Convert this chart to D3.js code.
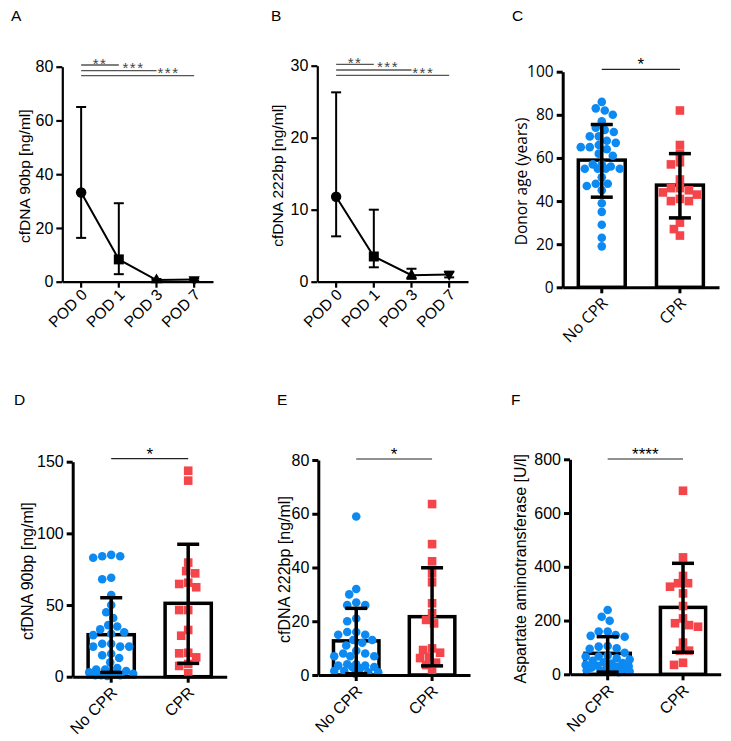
<!DOCTYPE html>
<html><head><meta charset="utf-8">
<script src="https://cdn.jsdelivr.net/npm/d3@7"></script>
<style>body{margin:0;background:#fff}</style>
</head><body>
<svg id="c" width="731" height="741"></svg>
<script>
// ---------------- DATA ----------------
const podCats = ["POD 0", "POD 1", "POD 3", "POD 7"];
const podShapes = ["circle", "square", "triangle", "triangleDown"];
const a90Mean  = [33.2, 8.3, 0.6, 0.8];
const a90Upper = [65.0, 29.2, 1.0, 1.2];
const a90Lower = [16.3, 2.8, 0.3, 0.4];
const b222Mean  = [11.8, 3.5, 0.9, 1.0];
const b222Upper = [26.3, 10.0, 1.8, 1.4];
const b222Lower = [6.3, 2.0, 0.4, 0.6];
const sigLabelsPOD = ["**", "***", "***"];
const sigTargetsPOD = ["POD 1", "POD 3", "POD 7"];

const groups = ["No CPR", "CPR"];

const ageNoCPR = [83, 86, 82, 80, 77, 73, 74, 72, 70, 70, 68, 67, 66, 65, 65, 64, 62, 61, 57, 56, 55, 55, 55, 55, 57, 51, 48, 47, 48, 45, 39, 35, 29, 23, 19];
const ageCPR = [82, 66, 62, 58, 57, 50, 46, 46, 45, 44, 43, 41, 40, 40, 30, 27, 24];
const ageMean = [59.0, 47.4], ageUpper = [75.5, 62.0], ageLower = [41.8, 32.2];

const d90NoCPR = [84, 84, 83, 85, 68, 69, 57, 50, 45, 41, 36, 33, 35, 31, 30, 29, 23, 21, 21, 21, 23, 16, 15, 13, 10, 6, 5, 5, 4, 3, 2, 2, 1, 1, 1, 0.5];
const d90CPR = [143.7, 136.8, 73.7, 79.6, 65.6, 72.1, 64.7, 62.4, 46.5, 46.5, 32.6, 28.6, 16.3, 16.7, 8.9, 13.5, 7.5, 2.4];
const d90Mean = [29.3, 51.2], d90Upper = [55.1, 92.4], d90Lower = [3.0, 9.3];

const e222NoCPR = [59, 32, 27, 26, 30, 26, 20, 21, 16, 16, 13, 15, 11, 13, 8, 8, 7, 7, 7, 9, 4, 3.5, 3, 2.5, 3, 3.5, 4, 1.5, 1, 0.5, 1, 1.5, 12, 15];
const e222CPR = [63.6, 48.7, 42.3, 37.8, 34.5, 26.7, 23, 19.2, 20.5, 9.3, 9.9, 6.8, 8.3, 4.6, 3.7, 1.2, 6.3];
const e222Mean = [12.7, 21.7], e222Upper = [24.8, 39.9], e222Lower = [0.5, 3.4];

const astNoCPR = [239, 214, 199, 159, 159, 146, 143, 140, 103, 97, 105, 95, 80, 70, 66, 66, 60, 55, 50, 45, 42, 40, 35, 32, 30, 28, 25, 22, 20, 18, 15, 12, 10, 8];
const astCPR = [683, 435, 366, 339, 326, 339, 301, 254, 208, 190, 177, 183, 118, 88, 88, 35, 43];
const astMean = [78, 249], astUpper = [140, 413], astLower = [8, 82];

// ---------------- DRAW ----------------
const svg = d3.select("#c");
const ARIAL = "'Liberation Sans', Arial, sans-serif";
const OPEN = "'Open Sans', 'Liberation Sans', sans-serif";
const BLUE = "#0d8af2", RED = "#f4464a";

function panelLetter(t, x, y) {
  svg.append("text").attr("x", x).attr("y", y).text(t)
    .attr("font-family", ARIAL).attr("font-size", 15.5).attr("fill", "#000");
}

function drawAxes(g, x, y, cfg) {
  const ya = g.append("g").attr("transform", `translate(${x.range()[0]},0)`)
    .call(d3.axisLeft(y).tickValues(cfg.yTicks).tickSize(6).tickSizeOuter(0).tickPadding(3));
  ya.select(".domain").attr("stroke-width", cfg.axW).attr("stroke", "#000");
  ya.selectAll(".tick line").attr("stroke-width", cfg.axW).attr("stroke", "#000");
  ya.selectAll("text").attr("font-size", cfg.fs).attr("font-family", cfg.ff).attr("fill", "#000");
  const xa = g.append("g").attr("transform", `translate(0,${y.range()[0]})`)
    .call(d3.axisBottom(x).tickSize(6).tickSizeOuter(0));
  xa.select(".domain").attr("stroke-width", cfg.axW).attr("stroke", "#000");
  xa.selectAll(".tick line").attr("stroke-width", cfg.axW).attr("stroke", "#000");
  xa.selectAll("text").attr("x", 0).attr("y", 0).attr("dy", "0.35em")
    .attr("text-anchor", "end")
    .attr("transform", `translate(${cfg.lx},${cfg.ly}) rotate(-45)`)
    .attr("font-size", cfg.xfs || cfg.fs).attr("font-family", cfg.ff).attr("fill", "#000");
  // y label
  const [yb, yt] = y.range();
  g.append("text").attr("transform", `translate(${cfg.labX},${(yb + yt) / 2 + 2}) rotate(-90)`)
    .attr("text-anchor", "middle").attr("dy", "0.35em")
    .attr("font-size", cfg.labFs || cfg.fs).attr("font-family", cfg.ff).attr("fill", "#000")
    .text(cfg.label);
}

function symbolPath(shape, s) {
  const map = { circle: d3.symbolCircle, square: d3.symbolSquare, triangle: d3.symbolTriangle, triangleDown: d3.symbolTriangle };
  return d3.symbol().type(map[shape]).size(s)();
}

// Line panels A, B
function linePanel(cfg, mean, upper, lower) {
  const g = svg.append("g");
  const x = d3.scaleBand().domain(podCats).range([cfg.x0, cfg.x1]);
  const y = d3.scaleLinear().domain([0, cfg.yMax]).range([cfg.y0, cfg.yTop]);
  const cx = c => x(c) + x.bandwidth() / 2;
  drawAxes(g, x, y, cfg);
  const eb = g.append("g").attr("stroke", "#000").attr("stroke-width", 2);
  podCats.forEach((c, i) => {
    eb.append("line").attr("x1", cx(c)).attr("x2", cx(c)).attr("y1", y(upper[i])).attr("y2", y(lower[i]));
    [upper[i], lower[i]].forEach(v => eb.append("line").attr("x1", cx(c) - 5).attr("x2", cx(c) + 5).attr("y1", y(v)).attr("y2", y(v)));
  });
  g.append("path").datum(mean).attr("fill", "none").attr("stroke", "#000").attr("stroke-width", 2)
    .attr("d", d3.line().x((d, i) => cx(podCats[i])).y(d => y(d)));
  podCats.forEach((c, i) => {
    const sh = podShapes[i];
    const size = sh === "circle" ? 85 : sh === "square" ? 100 : 55;
    g.append("path").attr("d", symbolPath(sh, size)).attr("fill", "#000")
      .attr("transform", `translate(${cx(c)},${y(mean[i])})${sh === "triangleDown" ? " rotate(180)" : ""}`);
  });
  sigTargetsPOD.forEach((t, k) => {
    const ly = cfg.sigY[k];
    g.append("line").attr("x1", cx(podCats[0])).attr("x2", cx(t)).attr("y1", ly).attr("y2", ly)
      .attr("stroke", "#555").attr("stroke-width", 1.3);
    g.append("text").attr("x", cfg.starX[k]).attr("y", cfg.starY[k] + 9).attr("text-anchor", "middle")
      .attr("font-family", ARIAL).attr("font-size", 15).attr("letter-spacing", 1.5).attr("fill", "#444")
      .text(sigLabelsPOD[k]);
  });
}

function swarm(values, yS, r, halfMax) {
  const pts = values.map(v => ({ v, y: yS(v), dx: 0 }));
  const order = pts.slice().sort((a, b) => b.v - a.v);
  const placed = [];
  const minD = 2 * r * 1.0;
  for (const p of order) {
    let bestDx = 0, bestScore = -1;
    for (let i = 0; i <= 2 * halfMax; i++) {
      const dx = (i % 2 === 0 ? 1 : -1) * Math.ceil(i / 2);
      let md = Infinity;
      for (const q of placed) md = Math.min(md, Math.hypot(q.dx - dx, q.y - p.y));
      if (md >= minD) { bestDx = dx; break; }
      if (md > bestScore) { bestScore = md; bestDx = dx; }
    }
    p.dx = bestDx; placed.push(p);
  }
  return pts;
}

// Bar panels C-F
function barPanel(cfg, setA, setB, mean, upper, lower) {
  const g = svg.append("g");
  const x = d3.scaleBand().domain(groups).range([cfg.x0, cfg.x1]);
  const y = d3.scaleLinear().domain([0, cfg.yMax]).range([cfg.y0, cfg.yTop]);
  const cx = c => x(c) + x.bandwidth() / 2;
  const bw = x.bandwidth() * 0.6;
  g.selectAll("rect.bar").data(groups).join("rect")
    .attr("x", c => cx(c) - bw / 2).attr("width", bw)
    .attr("y", (c, i) => y(mean[i])).attr("height", (c, i) => y(0) - y(mean[i]))
    .attr("fill", "#fff").attr("stroke", "#000").attr("stroke-width", 3.5);
  const r = 4.3;
  swarm(setA, y, r, 22).forEach(p => {
    g.append("circle").attr("cx", cx(groups[0]) + p.dx).attr("cy", p.y).attr("r", r).attr("fill", BLUE);
  });
  swarm(setB, y, r, 22).forEach(p => {
    g.append("rect").attr("x", cx(groups[1]) + p.dx - r).attr("y", p.y - r)
      .attr("width", 2 * r).attr("height", 2 * r).attr("fill", RED);
  });
  drawAxes(g, x, y, cfg);
  const eb = g.append("g").attr("stroke", "#000").attr("stroke-width", 3.5);
  groups.forEach((c, i) => {
    eb.append("line").attr("x1", cx(c)).attr("x2", cx(c)).attr("y1", y(upper[i])).attr("y2", y(lower[i]));
    [upper[i], lower[i]].forEach(v => eb.append("line").attr("x1", cx(c) - 11).attr("x2", cx(c) + 11).attr("y1", y(v)).attr("y2", y(v)));
  });
  g.append("line").attr("x1", cx(groups[0])).attr("x2", cx(groups[1])).attr("y1", cfg.sigY).attr("y2", cfg.sigY)
    .attr("stroke", "#222").attr("stroke-width", 1.2);
  g.append("text").attr("x", (cx(groups[0]) + cx(groups[1])) / 2).attr("y", cfg.sigY + 1)
    .attr("text-anchor", "middle").attr("font-family", ARIAL).attr("font-size", 17).attr("fill", "#000")
    .text(cfg.sig);
}

panelLetter("A", 11, 21);
panelLetter("B", 271, 21);
panelLetter("C", 512, 21);
panelLetter("D", 14, 405);
panelLetter("E", 277, 405);
panelLetter("F", 511, 405);

linePanel({ x0: 62.3, x1: 213, y0: 281.7, yTop: 66.7, yMax: 80, yTicks: [0, 20, 40, 60, 80], axW: 2.2, fs: 16, xfs: 15.5, ff: ARIAL, lx: 3, ly: 10,
  labX: 25, label: "cfDNA 90bp [ng/ml]", labFs: 15.5,
  sigY: [65, 70.7, 75.7], starX: [100, 133.5, 168.5], starY: [60, 64, 69.3] }, a90Mean, a90Upper, a90Lower);

linePanel({ x0: 317.3, x1: 468, y0: 281.7, yTop: 65.7, yMax: 30, yTicks: [0, 10, 20, 30], axW: 2.2, fs: 16, xfs: 15.5, ff: ARIAL, lx: 3, ly: 10,
  labX: 278, label: "cfDNA 222bp [ng/ml]", labFs: 15.5,
  sigY: [64.3, 70, 75.3], starX: [355, 388, 423.3], starY: [59, 63.3, 69] }, b222Mean, b222Upper, b222Lower);

barPanel({ x0: 562.7, x1: 719, y0: 287.3, yTop: 71.7, yMax: 100, yTicks: [0, 20, 40, 60, 80, 100], axW: 3, fs: 15.5, xfs: 16, ff: OPEN, lx: 3, ly: 13,
  labX: 522, label: "Donor age (years)", labFs: 15.5, sigY: 69.3, sig: "*" }, ageNoCPR, ageCPR, ageMean, ageUpper, ageLower);

barPanel({ x0: 72.7, x1: 226.7, y0: 676.7, yTop: 461.7, yMax: 150, yTicks: [0, 50, 100, 150], axW: 3, fs: 16, ff: ARIAL, lx: 3, ly: 13,
  labX: 27, label: "cfDNA 90bp [ng/ml]", labFs: 16, sigY: 458.7, sig: "*" }, d90NoCPR, d90CPR, d90Mean, d90Upper, d90Lower);

barPanel({ x0: 318.3, x1: 470, y0: 675, yTop: 460, yMax: 80, yTicks: [0, 20, 40, 60, 80], axW: 3, fs: 16, ff: ARIAL, lx: 3, ly: 13,
  labX: 284, label: "cfDNA 222bp [ng/ml]", labFs: 16, sigY: 459, sig: "*" }, e222NoCPR, e222CPR, e222Mean, e222Upper, e222Lower);

barPanel({ x0: 570, x1: 720.7, y0: 674.3, yTop: 459.3, yMax: 800, yTicks: [0, 200, 400, 600, 800], axW: 3, fs: 16, ff: ARIAL, lx: 3, ly: 13,
  labX: 520, label: "Aspartate aminotransferase [U/l]", labFs: 16, sigY: 459, sig: "****" }, astNoCPR, astCPR, astMean, astUpper, astLower);
</script>
</body></html>
